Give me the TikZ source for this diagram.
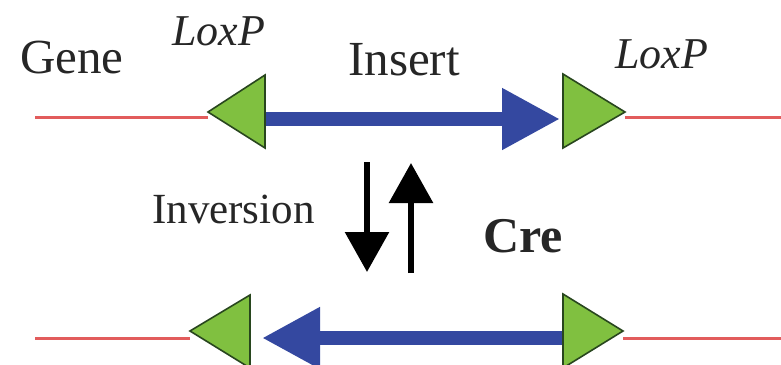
\documentclass[tikz,border=0pt]{standalone}
\usepackage{fontspec}
\setmainfont{LiberationSerif}[Extension=.ttf,UprightFont=*-Regular,BoldFont=*-Bold,ItalicFont=*-Italic,BoldItalicFont=*-BoldItalic]
\usetikzlibrary{arrows.meta}
\definecolor{redline}{RGB}{226,92,92}
\definecolor{loxgreen}{RGB}{128,192,64}
\definecolor{loxedge}{RGB}{40,70,30}
\definecolor{insblue}{RGB}{52,72,160}
\tikzset{
  dnaline/.style={draw=redline,line width=3pt},
  loxsite/.style={fill=loxgreen,draw=loxedge,line width=1.6pt,line join=miter},
  insertarrow/.style={draw=insblue,line width=14pt,-{Triangle[length=58pt,width=58pt]}},
  crearrow/.style={draw=black,line width=6pt,-{Triangle[length=40pt,width=43pt]}},
  lbl/.style={inner sep=0pt,anchor=base west,text=black!85}
}
\begin{document}
\begin{tikzpicture}[x=1pt,y=-1pt]
\useasboundingbox (0,0) rectangle (781,364);
\clip (0,0) rectangle (781,364);
\fill[white] (0,0) rectangle (781,364);
% coordinates
\coordinate (tl) at (35,117);
\coordinate (tr) at (781,117);
\coordinate (bl) at (35,338);
\coordinate (br) at (781,338);
\coordinate (t1tip) at (208,112);
\coordinate (t2tip) at (625,112);
\coordinate (b1tip) at (190,331);
\coordinate (b2tip) at (623,331);
\coordinate (t1base) at (265,119);
\coordinate (t2base) at (560,119);
\coordinate (b2base) at (563,338);
\coordinate (b1base) at (262,338);
% red lines
\draw[dnaline] (tl) -- (t1tip |- tl);
\draw[dnaline] (t2tip |- tr) -- (tr);
\draw[dnaline] (bl) -- (b1tip |- bl);
\draw[dnaline] (b2tip |- br) -- (br);
% insert arrows
\draw[insertarrow] (t1base) -- (t2base);
\draw[insertarrow] (b2base) -- (b1base);
% loxP triangles
\draw[loxsite] (t1tip) -- (265,75) -- (265,148) -- cycle;
\draw[loxsite] (t2tip) -- (563,74) -- (563,148) -- cycle;
\draw[loxsite] (b1tip) -- (250,295) -- (250,368) -- cycle;
\draw[loxsite] (b2tip) -- (563,294) -- (563,368) -- cycle;
% labels
\node[lbl,font=\fontsize{49}{52}\selectfont] (gene) at (20,73) {Gene};
\node[lbl,font=\fontsize{44}{47}\selectfont\itshape] (lox1) at (172,45) {LoxP};
\node[lbl,font=\fontsize{49}{52}\selectfont] (ins) at (348,75) {Insert};
\node[lbl,font=\fontsize{44}{47}\selectfont\itshape] (lox2) at (615,68) {LoxP};
\node[lbl,font=\fontsize{43}{46}\selectfont] (inv) at (152,223) {Inversion};
\node[lbl,font=\fontsize{50}{53}\selectfont\bfseries] (cre) at (483,252) {Cre};
% Cre arrows
\coordinate (d1) at (367,162);
\coordinate (d2) at (367,272);
\coordinate (u1) at (411,273);
\coordinate (u2) at (411,163);
\draw[crearrow] (d1) -- (d2);
\draw[crearrow] (u1) -- (u2);
\end{tikzpicture}
\end{document}
